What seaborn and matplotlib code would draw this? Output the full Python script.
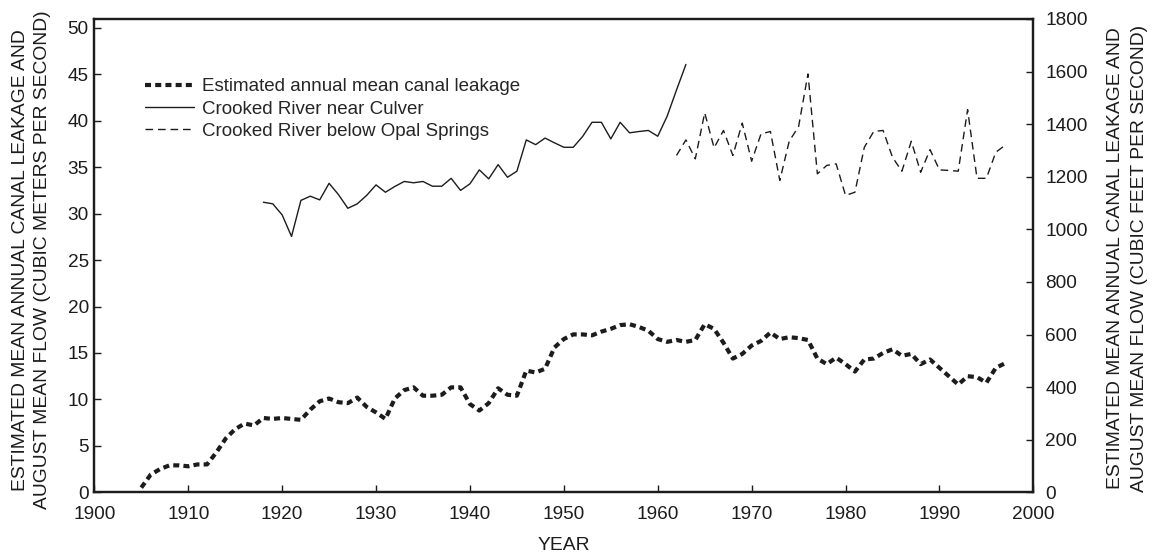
import numpy as np
import pandas as pd
import matplotlib
matplotlib.use("Agg")
import matplotlib.pyplot as plt
import seaborn as sns

# Estimated annual mean canal leakage, cubic meters per second
leak_years = list(range(1905, 1998))
leak_cms = [
    0.5, 1.9, 2.5, 2.9, 2.9, 2.8, 3.0, 3.0, 4.3, 5.8,      # 1905-1914
    6.8, 7.4, 7.2, 8.0, 7.9, 8.0, 7.9, 7.8, 8.9, 9.8,      # 1915-1924
    10.1, 9.7, 9.6, 10.2, 9.2, 8.6, 7.9, 10.1, 11.0, 11.3, # 1925-1934
    10.4, 10.4, 10.5, 11.3, 11.3, 9.5, 8.8, 9.6, 11.2, 10.5,  # 1935-1944
    10.4, 13.1, 12.9, 13.3, 15.6, 16.5, 17.0, 17.0, 16.9, 17.3,  # 1945-1954
    17.6, 18.0, 18.1, 17.8, 17.4, 16.5, 16.2, 16.4, 16.2, 16.4,  # 1955-1964
    18.1, 17.6, 16.1, 14.4, 14.9, 15.8, 16.3, 17.2, 16.5, 16.7,  # 1965-1974
    16.6, 16.4, 14.4, 13.8, 14.5, 13.8, 13.0, 14.3, 14.4, 15.0,  # 1975-1984
    15.4, 14.7, 14.9, 13.8, 14.3, 13.4, 12.5, 11.6, 12.5, 12.4,  # 1985-1994
    11.8, 13.4, 13.9,                                       # 1995-1997
]

# August mean flow, Crooked River near Culver, cubic feet per second
culver_years = list(range(1918, 1964))
culver_cfs = [
    1103, 1097, 1055, 973, 1110, 1126, 1112, 1175, 1132, 1080,   # 1918-1927
    1097, 1129, 1169, 1141, 1163, 1182, 1177, 1182, 1164, 1164,  # 1928-1937
    1194, 1148, 1173, 1226, 1192, 1246, 1198, 1221, 1340, 1322,  # 1938-1947
    1347, 1329, 1312, 1312, 1353, 1407, 1407, 1344, 1407, 1367,  # 1948-1957
    1372, 1376, 1354, 1430, 1530, 1627,                          # 1958-1963
]

# August mean flow, Crooked River below Opal Springs, cubic feet per second
opal_years = list(range(1962, 1998))
opal_cfs = [
    1281, 1340, 1268, 1443, 1310, 1376, 1281, 1404, 1259, 1363,  # 1962-1971
    1372, 1186, 1335, 1391, 1591, 1211, 1243, 1249, 1129, 1141,  # 1972-1981
    1312, 1372, 1376, 1274, 1221, 1335, 1217, 1303, 1226, 1224,  # 1982-1991
    1221, 1455, 1194, 1194, 1293, 1320,                          # 1992-1997
]

CFS_PER_CMS = 35.3147

x_ticks = list(range(1900, 2001, 10))
left_ticks = list(range(0, 51, 5))
right_ticks = list(range(0, 1801, 200))

left_label_lines = ["ESTIMATED MEAN ANNUAL CANAL LEAKAGE AND",
                    "AUGUST MEAN FLOW (CUBIC METERS PER SECOND)"]
right_label_lines = ["ESTIMATED MEAN ANNUAL CANAL LEAKAGE AND",
                     "AUGUST MEAN FLOW (CUBIC FEET PER SECOND)"]

sns.set_theme(style="ticks")
plt.rcParams["font.family"] = ["Liberation Sans", "DejaVu Sans"]

ink = "#1c1c1c"
W, H = 1156, 556
fig = plt.figure(figsize=(W / 100, H / 100), dpi=100)
ax = fig.add_axes([0.0816, 0.1146, 0.8123, 0.8513])
ax2 = ax.twinx()

leak_df = pd.DataFrame({"year": leak_years, "value": leak_cms})
culver_df = pd.DataFrame({"year": culver_years, "value": culver_cfs})
opal_df = pd.DataFrame({"year": opal_years, "value": opal_cfs})

sns.lineplot(data=leak_df, x="year", y="value", ax=ax, color=ink,
             linewidth=3.0, linestyle=(0, (1.45, 1.0)),
             label="Estimated annual mean canal leakage", legend=False)
sns.lineplot(data=culver_df, x="year", y="value", ax=ax2, color=ink,
             linewidth=1.0, label="Crooked River near Culver", legend=False)
sns.lineplot(data=opal_df, x="year", y="value", ax=ax2, color=ink,
             linewidth=1.0, linestyle=(0, (5.5, 3.5)),
             label="Crooked River below Opal Springs", legend=False)

ax.set_xlim(1900, 2000)
ax.set_ylim(0, 1800 / CFS_PER_CMS)
ax2.set_ylim(0, 1800)

ax.set_xticks(x_ticks)
ax.set_yticks(left_ticks)
ax2.set_yticks(right_ticks)

fs = 13.7
for a in (ax, ax2):
    for sp in a.spines.values():
        sp.set_linewidth(1.6)
        sp.set_color(ink)
    a.tick_params(direction="in", length=5, width=1.0, colors=ink,
                  labelsize=fs, labelcolor=ink)
ax.tick_params(axis="x", pad=10)
ax.tick_params(axis="y", pad=4)
ax2.tick_params(axis="y", pad=8.5)
ax.set_xlabel("")
ax.set_ylabel("")
ax2.set_ylabel("")

# axis titles
lab_fs = 13.9
fig.text(563.5 / W, 1 - 545 / H, "YEAR", fontsize=lab_fs, color=ink,
         ha="center", va="center")
for xpx, line in zip((21, 43), left_label_lines):
    fig.text(xpx / W, 1 - 260 / H, line, fontsize=lab_fs, color=ink,
             rotation=90, ha="center", va="center")
for xpx, line in zip((1116, 1140), right_label_lines):
    fig.text(xpx / W, 1 - 258 / H, line, fontsize=lab_fs, color=ink,
             rotation=90, ha="center", va="center")

handles = ax.get_lines()[:1] + ax2.get_lines()[:2]
labels = [h.get_label() for h in handles]
ax.legend(handles, labels, loc="upper left", bbox_to_anchor=(0.054, 0.875),
          frameon=False, fontsize=13.5, handlelength=2.6, handletextpad=0.45,
          labelspacing=0.28, borderpad=0, borderaxespad=0)

fig.savefig("out.png", dpi=100)
